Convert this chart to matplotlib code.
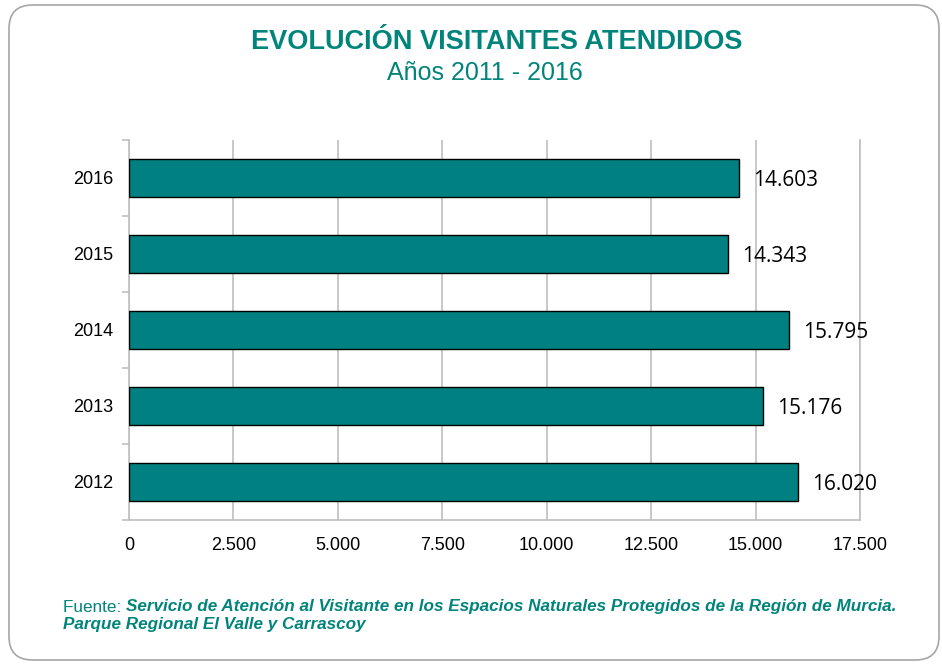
import matplotlib
matplotlib.use("Agg")
import matplotlib.pyplot as plt
from matplotlib.patches import FancyBboxPatch
from matplotlib.ticker import FixedLocator, FuncFormatter

# datos
years = ["2012", "2013", "2014", "2015", "2016"]
visitantes = [16020, 15176, 15795, 14343, 14603]
etiquetas = ["16.020", "15.176", "15.795", "14.343", "14.603"]
xticks = [0, 2500, 5000, 7500, 10000, 12500, 15000, 17500]

teal = "#00847b"
gris = "#bfbfbf"

fig = plt.figure(figsize=(9.42, 6.66), dpi=100)

# marco redondeado
marco = FancyBboxPatch((9 / 942, 6 / 666), 930 / 942, 655 / 666,
                       boxstyle="round,pad=0,rounding_size=0.025",
                       transform=fig.transFigure, facecolor="none",
                       edgecolor="#a6a6a6", linewidth=1.2, mutation_aspect=942 / 666)
fig.patches.append(marco)

ax = fig.add_axes([129 / 942, 1 - 520 / 666, (860 - 129) / 942, 380 / 666])
ax.set_facecolor("white")

pos = list(range(len(years)))
ax.barh(pos, visitantes, height=0.5, color="#008080", edgecolor="black", linewidth=1, zorder=3)

for p, v, t in zip(pos, visitantes, etiquetas):
    ax.annotate(t, (v, p), xytext=(10, -1.5), textcoords="offset points",
                va="center", ha="left", fontsize=15, family="Open Sans", color="black", zorder=4)

ax.set_xlim(0, 17500)
ax.set_ylim(-0.5, 4.5)
ax.set_xticks(xticks)
ax.xaxis.set_major_formatter(FuncFormatter(lambda x, _: f"{int(x):,}".replace(",", ".")))
ax.set_yticks(pos)
ax.set_yticklabels(years)
ax.yaxis.set_minor_locator(FixedLocator([-0.5, 0.5, 1.5, 2.5, 3.5, 4.5]))

ax.tick_params(axis="x", length=0, pad=12, labelsize=13)
ax.tick_params(axis="y", which="major", length=0, pad=11, labelsize=13)
ax.tick_params(axis="y", which="minor", length=5, color=gris, width=1.2)
for lab in ax.get_xticklabels() + ax.get_yticklabels():
    lab.set_family("Liberation Sans")

ax.grid(axis="x", color=gris, linewidth=1.2, zorder=0)
ax.spines["top"].set_visible(False)
for s in ["left", "right", "bottom"]:
    ax.spines[s].set_color(gris)
    ax.spines[s].set_linewidth(1.2)

# titulos
fig.text(0.527, 1 - 42 / 666, "EVOLUCIÓN VISITANTES ATENDIDOS", ha="center", va="center",
         fontsize=19.5, fontweight="bold", color=teal, family="Liberation Sans")
fig.text(0.515, 1 - 73 / 666, "Años 2011 - 2016", ha="center", va="center",
         fontsize=18, color=teal, family="Liberation Sans")

# fuente
f1 = fig.text(63 / 942, 1 - 607 / 666, "Fuente: ", ha="left", va="center",
              fontsize=12.3, color=teal, family="Liberation Sans")
fig.canvas.draw()
bb = f1.get_window_extent()
fig.text(bb.x1 / 942, 1 - 607 / 666,
         "Servicio de Atención al Visitante en los Espacios Naturales Protegidos de la Región de Murcia.",
         ha="left", va="center", fontsize=12.3, color=teal, fontweight="bold", style="italic",
         family="Liberation Sans")
fig.text(63 / 942, 1 - 625 / 666, "Parque Regional El Valle y Carrascoy", ha="left", va="center",
         fontsize=12.3, color=teal, fontweight="bold", style="italic", family="Liberation Sans")

fig.savefig("out.png", dpi=100)
